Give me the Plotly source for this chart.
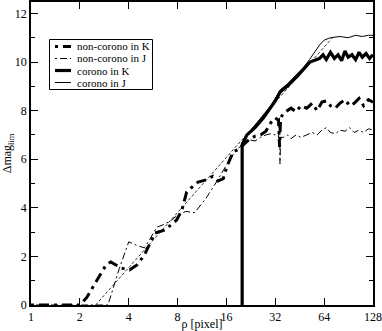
import plotly.graph_objects as go

# ---- data ----
rho_nck = [1, 1.5, 2, 2.2, 2.5, 2.9, 3.1, 3.6, 4.05, 4.5, 5.0, 5.5, 5.8, 6.7, 7.3, 7.9, 8.5,
           9.1, 10.0, 10.7, 12, 13.2, 14.2, 15.3, 16.1, 17.6, 18.9, 20.5, 22, 24, 26, 28,
           30, 32, 33.5, 34, 34.5, 36, 38, 40, 43, 46, 50, 54, 58, 62, 66, 70, 75, 80, 86,
           92, 98, 105, 112, 120, 128]
val_nck = [0, 0, 0, 0.3, 0.9, 1.65, 1.77, 1.52, 1.44, 1.65, 2.06, 2.6, 2.96, 3.09, 3.3, 3.5, 3.9,
           4.65, 4.9, 5.06, 5.15, 5.3, 5.1, 5.2, 5.7, 6.3, 6.4, 6.6, 6.8, 6.95, 7.0, 7.15,
           7.5, 7.7, 7.6, 6.5, 7.7, 7.9, 8.0, 8.1, 7.95, 8.2, 8.1, 8.3, 8.0, 8.35, 8.4, 8.2, 8.1, 8.3, 8.45,
           8.2, 8.3, 8.5, 8.2, 8.45, 8.35]

rho_ncj = [1, 2, 2.98, 3.5, 4.0, 4.5, 5.0, 5.5, 5.95, 6.5, 7.2, 8.0, 9.0, 10.2, 12, 14, 16.8,
           18.5, 20.8, 22, 24, 26, 28, 30, 32, 33.5, 34, 34.2, 34.5, 36, 38, 40, 43, 46, 50,
           54, 58, 62, 66, 70, 75, 80, 86, 92, 98, 105, 112, 120, 128]
val_ncj = [0, 0, 0, 1.5, 2.6, 2.45, 2.35, 2.8, 3.2, 3.3, 3.45, 3.7, 3.85, 3.8, 4.4, 5.1, 6.0,
           6.4, 6.67, 6.8, 6.75, 6.9, 7.0, 7.05, 7.0, 6.9, 7.7, 5.8, 6.9, 6.9, 7.0, 6.85, 7.0, 6.9, 7.0,
           7.1, 7.0, 7.2, 7.3, 7.1, 7.05, 7.2, 7.15, 7.3, 7.1, 7.2, 7.1, 7.25, 7.2]

rho_ck = [20, 20, 21.4, 24, 27, 29.7, 32, 34.3, 37.8, 43.5, 48, 52.4, 57.6, 60, 63, 66, 70,
          74, 78, 82, 86, 90, 95, 100, 105, 110, 116, 122, 128]
val_ck = [0, 6.6, 7.0, 7.3, 7.7, 8.1, 8.4, 8.77, 9.0, 9.4, 9.7, 10.0, 10.1, 10.15, 10.3, 10.1, 10.4,
          10.15, 10.3, 10.05, 10.45, 10.2, 10.3, 10.1, 10.4, 10.2, 10.35, 10.15, 10.3]

rho_cj = [20, 20, 22, 24, 27, 30, 32, 34.3, 38, 43.5, 48, 52, 56, 60, 64, 70, 80, 90,
          100, 110, 120, 128]
val_cj = [0, 6.7, 7.1, 7.4, 7.8, 8.2, 8.5, 8.85, 9.1, 9.5, 9.8, 10.1, 10.4, 10.7, 10.9,
          11.0, 11.05, 11.0, 11.1, 11.05, 11.1, 11.1]

rho_ref = [2.5, 72]
val_ref = [0, 11.0]

tick_vals = [1, 2, 4, 8, 16, 32, 64, 128]
tick_text = ["1", "2", "4", "8", "16", "32", "64", "128"]

legend_names = ["non-corono in K", "non-corono in J", "corono in K", "corono in J"]

# ---- styles ----
FAM = "Times New Roman, Liberation Serif, serif"
styles = [
    dict(color="black", width=3, dash="3px,5px,10px,5px"),
    dict(color="black", width=1, dash="2px,3px,7px,3px"),
    dict(color="black", width=3.2),
    dict(color="black", width=1),
]
series = [(rho_nck, val_nck), (rho_ncj, val_ncj), (rho_ck, val_ck), (rho_cj, val_cj)]

fig = go.Figure()
fig.add_trace(go.Scatter(x=rho_ref, y=val_ref, mode="lines", showlegend=False,
                         line=dict(color="black", width=0.8, dash="3px,2px")))
for (xs, ys), nm, st in zip(series, legend_names, styles):
    fig.add_trace(go.Scatter(x=xs, y=ys, mode="lines", name=nm, line=st, showlegend=False))

# manual compact legend (paper coords of the plot area: x 31..373, y 2..305 px)
def px(xp):
    return (xp - 31) / 342.0

def py(yp):
    return (305 - yp) / 303.0

fig.add_shape(type="rect", xref="paper", yref="paper",
              x0=px(49.5), x1=px(152.5), y0=py(89.5), y1=py(39.5),
              line=dict(color="black", width=1), fillcolor="white", layer="above")
rows = [46.5, 58.5, 70.5, 82.5]
for yr, nm, st in zip(rows, legend_names, styles):
    fig.add_shape(type="line", xref="paper", yref="paper",
                  x0=px(55), x1=px(71), y0=py(yr), y1=py(yr), line=st, layer="above")
    fig.add_annotation(xref="paper", yref="paper", x=px(76), y=py(yr), text=nm,
                       showarrow=False, xanchor="left", yanchor="middle",
                       borderpad=0, height=12, valign="middle",
                       font=dict(family=FAM, size=11, color="black"))

font = dict(family=FAM, size=12, color="black")

fig.update_layout(
    width=382, height=331,
    margin=dict(l=31, r=9, t=2, b=26, autoexpand=False),
    paper_bgcolor="white", plot_bgcolor="white",
    font=font, showlegend=False,
)
fig.update_xaxes(type="log", range=[0, 2.10721], tickvals=tick_vals, ticktext=tick_text,
                 ticks="inside", ticklen=7, tickwidth=1, tickcolor="black",
                 showline=True, linecolor="black", linewidth=1.5, mirror="allticks",
                 showgrid=False, zeroline=False, automargin=False,
                 tickfont=dict(family=FAM, size=12, color="black"),
                 title=dict(text="ρ [pixel]", standoff=2, font=dict(family=FAM, size=12, color="black")))
fig.update_yaxes(range=[0, 12.47], tickvals=[0, 2, 4, 6, 8, 10, 12],
                 ticks="inside", ticklen=7, tickwidth=1, tickcolor="black",
                 minor=dict(tickvals=[1, 3, 5, 7, 9, 11], ticks="inside", ticklen=4,
                            tickcolor="black", showgrid=False),
                 showline=True, linecolor="black", linewidth=1.5, mirror="allticks",
                 showgrid=False, zeroline=False, automargin=False,
                 tickfont=dict(family=FAM, size=12, color="black"),
                 title=dict(text="Δmag<sub>lim</sub>", standoff=4, font=dict(family=FAM, size=12, color="black")))

fig.write_html("out.html", config={"displayModeBar": False},
               post_script="document.body.style.margin='0';document.body.style.padding='0';")
